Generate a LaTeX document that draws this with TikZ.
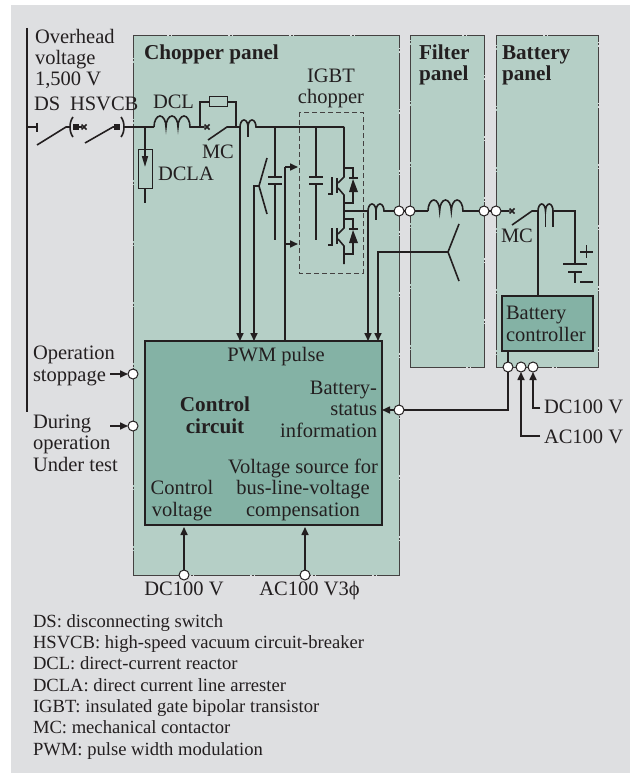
\documentclass[tikz,border=0pt]{standalone}
\usepackage{fontspec}
\setmainfont{Liberation Serif}
\usetikzlibrary{arrows.meta,shapes.misc}
\definecolor{bgrey}{HTML}{DEDFE1}
\definecolor{panelc}{HTML}{B5CFC6}
\definecolor{ctrlc}{HTML}{84B2A5}
\definecolor{inkc}{HTML}{231F20}
\tikzset{
  every node/.style={inner sep=0pt,outer sep=0pt,text=inkc,font=\fontsize{20.5}{21.3}\selectfont},
  wire/.style={draw=inkc,line width=1.6pt},
  thinw/.style={draw=inkc,line width=1pt},
  feed/.style={wire,-{Triangle[length=8pt,width=7pt]}},
  panel/.style={draw=inkc!85,fill=panelc,line width=1pt,dash pattern=on 56pt off 1.5pt on 2pt off 1.5pt},
  ctrlbox/.style={draw=inkc,fill=ctrlc,line width=1.5pt},
  term/.style={circle,draw=inkc,fill=white,line width=1pt,minimum size=10pt},
  contact/.style={rectangle,fill=inkc,minimum size=6pt},
  crossmk/.style={cross out,draw=inkc,line width=1.6pt,minimum size=5pt},
  txt/.style={anchor=base west,align=left},
  txtc/.style={anchor=base,align=center},
  txtr/.style={anchor=base east,align=right},
  boldt/.style={anchor=base west,align=left,font=\fontsize{21.2}{21.3}\selectfont\bfseries}
}
\begin{document}
\begin{tikzpicture}[x=1pt,y=1pt]
\useasboundingbox (0,-773) rectangle (630,0);
\fill [white] (0,-773) rectangle (630,0);
\fill [bgrey] (11,-773) rectangle (630,-5);

\node [panel,minimum width=266,minimum height=539] (chopper) at (266,-305.5) {};
\node [panel,minimum width=74,minimum height=331] (filter) at (447,-201.5) {};
\node [panel,minimum width=102,minimum height=331] (battery) at (547,-201.5) {};
\node [ctrlbox,minimum width=237,minimum height=184] (ctrl) at (263.5,-433) {};
\node [ctrlbox,minimum width=91,minimum height=55] (batctrl) at (547.5,-323.5) {};

\node [txt] (overhead) at (35,-86) {Overhead\\voltage\\1,500 V};
\node [txt] (lblds) at (34,-111) {DS};
\node [txt] (lblhs) at (70,-111) {HSVCB};
\node [txt] (lbldcl) at (153,-109) {DCL};
\node [txt] (lblmca) at (202,-158) {MC};
\node [txt] (lbldcla) at (158,-180) {DCLA};
\node [boldt] (lblchop) at (144,-60) {Chopper panel};
\node [txtc] (lbligbt) at (331,-104) {IGBT\\chopper};
\node [boldt] (lblfilt) at (419,-81) {Filter\\panel};
\node [boldt] (lblbatt) at (502,-81) {Battery\\panel};
\node [txt] (lblmcb) at (501,-242) {MC};
\node [txtc] (lblpwm) at (276,-361) {PWM pulse};
\node [txtr] (lblstat) at (377,-437) {Battery-\\status\\information};
\node [anchor=base,align=center,font=\fontsize{21.2}{21.3}\selectfont\bfseries] (lblctrl) at (215,-433) {Control\\circuit};
\node [txtc] (lblvs) at (303,-516) {Voltage source for\\bus-line-voltage\\compensation};
\node [txtc] (lblcv) at (182,-516) {Control\\voltage};
\node [txt] (lblop) at (33,-381) {Operation\\stoppage};
\node [txt] (lbldur) at (33,-471) {During\\operation\\Under test};
\node [txt] (lblbc) at (506,-341) {Battery\\controller};
\node [txt] (lbldcb) at (544,-413) {DC100 V};
\node [txt] (lblacb) at (544,-443) {AC100 V};
\node [txtc] (lbldcm) at (184,-595) {DC100 V};
\node [txtc] (lblacm) at (309.5,-595) {AC100 V3ϕ};
\node [txt,font=\fontsize{18.6}{21.3}\selectfont] (legend) at (33,-755) {DS: disconnecting switch\\HSVCB: high-speed vacuum circuit-breaker\\DCL: direct-current reactor\\DCLA: direct current line arrester\\IGBT: insulated gate bipolar transistor\\MC: mechanical contactor\\PWM: pulse width modulation};

\coordinate (busT) at (27,-28);
\coordinate (busB) at (27,-412);
\coordinate (dsL) at (37,-127);
\coordinate (dsB) at (37,-145);
\coordinate (dsH) at (66,-127);
\coordinate (hsB) at (85,-143);
\coordinate (hsH) at (113,-127);
\coordinate (hsR) at (124,-127);
\coordinate (dclL) at (154,-127);
\coordinate (mcB) at (208,-140);
\coordinate (mcH) at (227,-127);
\coordinate (leadA) at (240,-127);
\coordinate (leadB) at (254,-186);
\coordinate (swM) at (259,-186);
\coordinate (swU) at (267,-158);
\coordinate (swD) at (267,-214);
\coordinate (capA) at (275,-127);
\coordinate (gateU) at (285,-167);
\coordinate (gateL) at (285,-244);
\coordinate (cornU) at (298,-167);
\coordinate (cornL) at (298,-244);
\coordinate (capB) at (316,-127);
\coordinate (igbtT) at (344,-127);
\coordinate (igbtM) at (344,-211);
\coordinate (coilC) at (368,-211);
\coordinate (filtL) at (428,-211);
\coordinate (mcRH) at (532,-211);
\coordinate (coilE) at (538,-211);
\coordinate (coilF) at (553,-211);
\coordinate (batT) at (575,-211);
\coordinate (batP) at (575,-264);
\coordinate (yL) at (378,-252);
\coordinate (yM) at (448,-252);
\coordinate (yU) at (459,-224);
\coordinate (yD) at (459,-281);
\coordinate (dcEnd) at (540,-408);
\coordinate (acEnd) at (540,-436);

\node [rectangle,thinw,minimum width=18,minimum height=10] (resist) at (218,-102) {};
\node [rectangle,thinw,minimum width=14,minimum height=39] (arrester) at (145,-168.5) {};
\node [contact] (sqA) at (76,-127) {};
\node [contact] (sqB) at (117,-127) {};
\node [crossmk] (xA) at (84,-127) {};
\node [crossmk] (xB) at (207,-127) {};
\node [crossmk] (xC) at (512,-211) {};

\draw [wire] (busT) -- (busB);
\draw [wire] (27,-127) -- (dsL);
\draw [wire] (37,-123) -- (37,-132);
\draw [wire] (dsB) -- (dsH) -- (70,-127);
\draw [wire] (73,-117) .. controls (69,-122) and (69,-132) .. (73,-137);
\draw [wire] (sqA) -- (xA);
\draw [wire] (hsB) -- (hsH) -- (sqB);
\draw [wire] (121,-117) .. controls (125,-122) and (125,-132) .. (121,-137);
\draw [wire] (hsR) -- (dclL);
\draw [wire] (dclL) arc (180:0:6 and 11) arc (180:0:6 and 11) arc (180:0:6 and 11) -- (xB);
\draw [wire] (200,-127) |- (resist);
\draw [wire] (resist) -| (236,-127);
\draw [wire] (mcB) -- (mcH) -- (leadA);
\draw [wire] (leadA) arc (180:0:4 and 7) arc (180:0:4 and 7) -- (igbtT);
\draw [wire] (248,-127) -- (248,-137);

\draw [wire] (145,-127) -- (arrester);
\draw [wire] (arrester) -- (145,-203);
\draw [wire,-{Triangle[length=11pt,width=6pt]}] (145,-149) -- (145,-167);

\draw [feed] (leadA) -- (leadA |- ctrl.north);
\draw [feed] (swM) -- (leadB) -- (leadB |- ctrl.north);
\draw [wire] (swU) -- (swM) -- (swD);
\draw [wire] (capA) -- (275,-177);
\draw [wire] (268,-177) -- (282,-177);
\draw [wire] (268,-184) -- (282,-184);
\draw [wire] (275,-184) -- (275,-240);
\draw [wire] (gateU |- ctrl.north) -- (gateU);
\draw [feed] (gateU) -- (cornU);
\draw [feed] (gateL) -- (cornL);

\draw [draw=inkc!85,line width=0.9pt,dash pattern=on 5pt off 3pt] (299,-112) rectangle (363,-273);

\draw [wire] (capB) -- (316,-177);
\draw [wire] (309,-177) -- (323,-177);
\draw [wire] (309,-184) -- (323,-184);
\draw [wire] (316,-184) -- (316,-240);

\draw [wire] (igbtT) -- (344,-177) -- (338,-183);
\draw [wire] (338,-188) -- (344,-195) -- (344,-228) -- (338,-234);
\draw [wire] (338,-239) -- (344,-246) -- (344,-264);
\draw [wire] (337,-178) -- (337,-193);
\draw [wire] (337,-228) -- (337,-244);
\draw [wire] (332,-177) -- (332,-194) -- (328,-194);
\draw [wire] (332,-228) -- (332,-245) -- (328,-245);
\draw [wire] (344,-168) -- (353,-168) -- (353,-177);
\draw [wire] (349,-178) -- (358,-178);
\draw [wire] (353,-192) -- (353,-203) -- (344,-203);
\draw [wire] (344,-219) -- (353,-219) -- (353,-228);
\draw [wire] (349,-229) -- (358,-229);
\draw [wire] (353,-243) -- (353,-254) -- (344,-254);
\fill [inkc] (353,-179) -- (349,-192) -- (358,-192) -- cycle;
\fill [inkc] (353,-230) -- (349,-243) -- (358,-243) -- cycle;

\draw [wire] (igbtM) -- (coilC);
\draw [wire] (coilC) arc (180:0:4 and 7) arc (180:0:4 and 7) -- (399,-211);
\draw [wire] (376,-211) -- (376,-220);
\draw [feed] (coilC) -- (coilC |- ctrl.north);
\draw [wire] (399,-211) -- (filtL);
\draw [wire] (filtL) arc (180:0:5.83 and 11) arc (180:0:5.83 and 11) arc (180:0:5.83 and 11) -- (xC);
\draw [wire] (512,-225) -- (mcRH) -- (coilE);
\draw [wire] (coilE) arc (180:0:3.75 and 7) arc (180:0:3.75 and 7) -- (batT) -- (batP);
\draw [wire] (545.5,-211) -- (545.5,-227);
\draw [wire] (coilF) -- (553,-227);
\draw [wire] (coilE) -- (coilE |- batctrl.north);
\draw [wire] (563,-264) -- (587,-264);
\draw [wire] (568,-272) -- (582,-272);
\draw [wire] (575,-272) -- (575,-283);
\draw [wire] (580,-252) -- (593,-252);
\draw [wire] (586.5,-245) -- (586.5,-258);
\draw [wire] (580,-282) -- (593,-282);

\draw [feed] (yM) -- (yL) -- (yL |- ctrl.north);
\draw [wire] (yU) -- (yM) -- (yD);

\node [term] (jA) at (399,-211) {};
\node [term] (jB) at (410,-211) {};
\node [term] (jC) at (484,-211) {};
\node [term] (jD) at (496,-211) {};
\node [term] (tStop) at (133,-374) {};
\node [term] (tDur) at (133,-426) {};
\node [term] (tStat) at (399,-410) {};
\node [term] (tDC) at (184,-575) {};
\node [term] (tAC) at (305,-575) {};
\node [term] (tBa) at (508,-367) {};
\node [term] (tBb) at (521,-367) {};
\node [term] (tBc) at (533,-367) {};

\draw [feed] (110,-374) -- (tStop);
\draw [feed] (110,-426) -- (tDur);
\draw [feed] (tStat) -- (ctrl.east |- tStat);
\draw [wire] (tStat) -| (tBa);
\draw [wire] (tBa) -- (tBa |- batctrl.south);
\draw [feed] (tDC) -- (184,-527);
\draw [feed] (tAC) -- (305,-527);
\draw [feed] (dcEnd) -| (tBc);
\draw [feed] (acEnd) -| (tBb);
\end{tikzpicture}
\end{document}
